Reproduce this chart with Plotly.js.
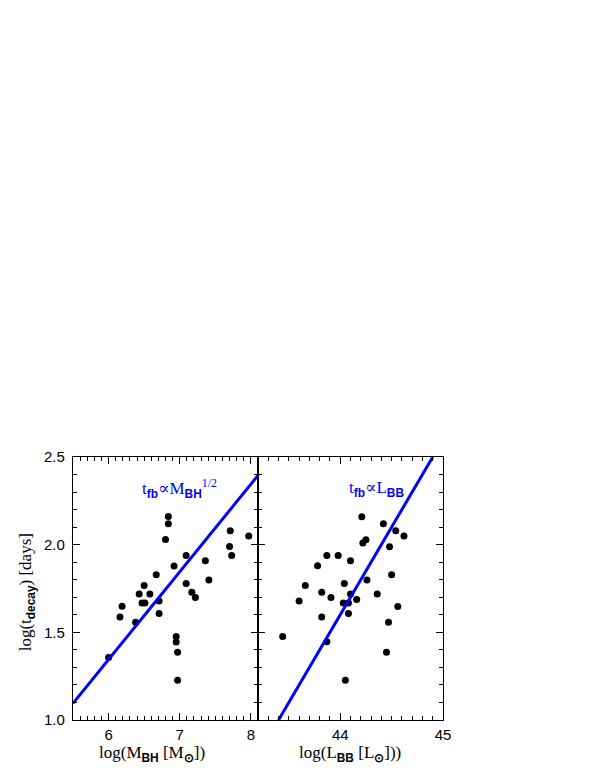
<!DOCTYPE html>
<html>
<head>
<meta charset="utf-8">
<script src="https://cdn.plot.ly/plotly-3.0.1.min.js"></script>
<style>
  body { margin: 0; background: white; }
  #chart { width: 598px; height: 774px; }
</style>
</head>
<body>
<div id="chart"></div>
<script>
// left panel: black hole mass vs decay time
const log_mbh = [6.00, 6.16, 6.19, 6.38, 6.43, 6.47, 6.50, 6.51, 6.58, 6.67,
                 6.71, 6.71, 6.80, 6.84, 6.84, 6.92, 6.95, 6.95, 6.97, 6.97,
                 7.09, 7.09, 7.17, 7.22, 7.36, 7.41, 7.71, 7.70, 7.73, 7.97]
const log_tdecay_m = [1.356, 1.588, 1.649, 1.558, 1.718, 1.668, 1.767, 1.668, 1.718, 1.828,
                      1.678, 1.607, 2.030, 2.161, 2.119, 1.878, 1.476, 1.445, 1.386, 1.227,
                      1.938, 1.779, 1.729, 1.699, 1.908, 1.798, 2.079, 1.990, 1.938, 2.049]

// right panel: blackbody luminosity vs decay time
const log_lbb = [43.44, 43.60, 43.66, 43.78, 43.82, 43.82, 43.87, 43.87, 43.91, 43.98,
                 44.04, 44.03, 44.05, 44.08, 44.08, 44.10, 44.10, 44.16, 44.21, 44.22,
                 44.25, 44.26, 44.36, 44.42, 44.45, 44.47, 44.48, 44.50, 44.54, 44.56, 44.62]
const log_tdecay_l = [1.476, 1.678, 1.767, 1.880, 1.729, 1.588, 1.938, 1.447, 1.699, 1.938,
                      1.779, 1.668, 1.227, 1.668, 1.607, 1.908, 1.718, 1.687, 2.159, 2.009,
                      2.028, 1.798, 1.718, 2.119, 1.386, 1.558, 1.988, 1.828, 2.079, 1.647, 2.049]

// scaling relations (end points)
const fit_m_x = [5.5, 8.1]
const fit_m_y = [1.095, 2.395]
const fit_l_x = [43.4, 44.9]
const fit_l_y = [1.0, 2.5]

const blue = '#0000ff'
const serif = '"Liberation Serif", "DejaVu Serif", serif'
const sans = '"Liberation Sans", Arial, sans-serif'

// small bold sans subscripts, like the original figure
function sb(s) {
    return '<sub><span style="font-family:Liberation Sans;font-weight:bold">' + s + '</span></sub>'
}

function axis_common(range, dtick) {
    return {
        range: range,
        ticks: 'inside',
        ticklen: 7,
        tickwidth: 1.3,
        tickcolor: 'black',
        dtick: dtick,
        minor: { dtick: 0.1, ticklen: 4, tickwidth: 1.2, tickcolor: 'black', ticks: 'inside' },
        showline: true,
        linecolor: 'black',
        linewidth: 1.4,
        mirror: 'ticks',
        showgrid: false,
        zeroline: false,
        tickfont: { family: sans, size: 15, color: 'black' }
    }
}

let data = [
    {
        x: log_mbh, y: log_tdecay_m, xaxis: 'x', yaxis: 'y',
        mode: 'markers', type: 'scatter',
        marker: { color: 'black', size: 7 }
    },
    {
        x: fit_m_x, y: fit_m_y, xaxis: 'x', yaxis: 'y',
        mode: 'lines', type: 'scatter',
        line: { color: blue, width: 3 }
    },
    {
        x: log_lbb, y: log_tdecay_l, xaxis: 'x2', yaxis: 'y2',
        mode: 'markers', type: 'scatter',
        marker: { color: 'black', size: 7 }
    },
    {
        x: fit_l_x, y: fit_l_y, xaxis: 'x2', yaxis: 'y2',
        mode: 'lines', type: 'scatter',
        line: { color: blue, width: 3 }
    }
]

let xa = axis_common([5.5, 8.1], 1)
xa.domain = [0, 0.5]
xa.anchor = 'y'
xa.ticklabelstandoff = 1

let xa2 = axis_common([43.2, 45], 1)
xa2.domain = [0.5, 1]
xa2.anchor = 'y2'
xa2.ticklabelstandoff = 1

let ya = axis_common([1.0, 2.5], 0.5)
ya.anchor = 'x'
ya.tickformat = '.1f'
ya.ticklabelstandoff = 4

let ya2 = axis_common([1.0, 2.5], 0.5)
ya2.anchor = 'x2'
ya2.showticklabels = false

let layout = {
    width: 598,
    height: 774,
    margin: { l: 73, r: 155, t: 457, b: 54 },
    paper_bgcolor: 'white',
    plot_bgcolor: 'white',
    showlegend: false,
    xaxis: xa,
    xaxis2: xa2,
    yaxis: ya,
    yaxis2: ya2,
    annotations: [
        {
            text: 'log(M' + sb('BH') + ' [M' + sb('⊙') + '])',
            xref: 'paper', yref: 'paper', x: 0.214, y: -0.128,
            xanchor: 'center', yanchor: 'middle', showarrow: false,
            font: { family: serif, size: 17, color: 'black' }
        },
        {
            text: 'log(L' + sb('BB') + ' [L' + sb('⊙') + ']))',
            xref: 'paper', yref: 'paper', x: 0.748, y: -0.128,
            xanchor: 'center', yanchor: 'middle', showarrow: false,
            font: { family: serif, size: 17, color: 'black' }
        },
        {
            text: 'log(t' + sb('decay') + ') [days]',
            xref: 'paper', yref: 'paper', x: -0.122, y: 0.485,
            xanchor: 'center', yanchor: 'middle', textangle: -90, showarrow: false,
            font: { family: serif, size: 17, color: 'black' }
        },
        {
            text: 't' + sb('fb') + '∝M' + sb('BH') + '<sup>1/2</sup>',
            xref: 'x', yref: 'y', x: 7.0, y: 2.32,
            xanchor: 'center', yanchor: 'middle', showarrow: false,
            font: { family: serif, size: 17, color: blue }
        },
        {
            text: 't' + sb('fb') + '∝L' + sb('BB'),
            xref: 'x2', yref: 'y2', x: 44.35, y: 2.32,
            xanchor: 'center', yanchor: 'middle', showarrow: false,
            font: { family: serif, size: 17, color: blue }
        }
    ]
}

Plotly.newPlot('chart', data, layout, { displayModeBar: false, responsive: false })
</script>
</body>
</html>
